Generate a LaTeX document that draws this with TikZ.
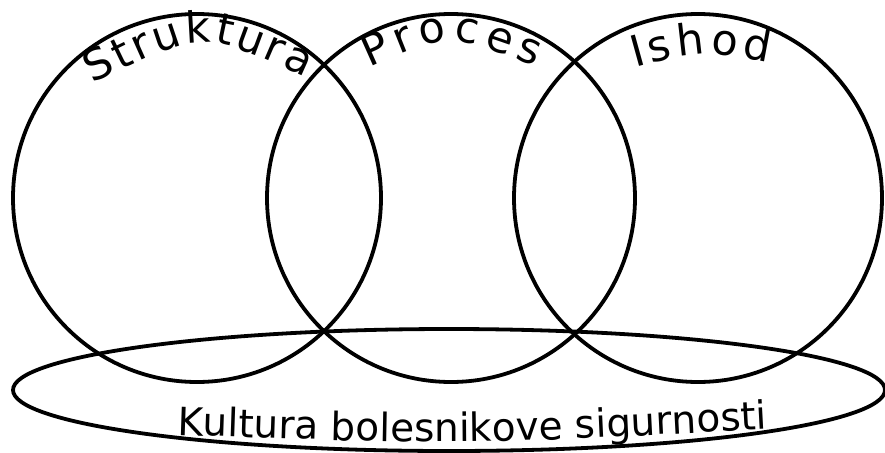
\documentclass[tikz,border=0pt]{standalone}
\usepackage{fontspec}
\setmainfont{DejaVu Sans}
\usetikzlibrary{decorations.text}
\newcommand\toplblsize{\fontsize{43}{45}\selectfont}
\newcommand\botlblsize{\fontsize{39}{41}\selectfont}
\begin{document}
\begin{tikzpicture}[x=1pt,y=-1pt, line width=3.8pt,
  venn/.style={circle, draw, minimum size=368pt, inner sep=0pt},
  arclabel/.style 2 args={decorate, decoration={text along path,
     text format delimiters={|}{|},
     text={|#1|#2}, text align={fit to path}}}]
\useasboundingbox (0,0) rectangle (885,452);
% circles
\node[venn] (struk) at (197,198) {};
\node[venn] (proc) at (451,198) {};
\node[venn] (ishod) at (698,198) {};
% ellipse
\draw (449,390) ellipse [x radius=436pt, y radius=61pt];
% curved labels
\path[arclabel={\toplblsize}{Struktura}] (93,84) .. controls (201,30) .. (305,77);
\path[arclabel={\toplblsize}{Proces}] (370,68) .. controls (448,33) .. (535,66);
\path[arclabel={\toplblsize}{Ishod}] (635,68) .. controls (700,50) .. (768,63);
\path[arclabel={\botlblsize}{Kultura bolesnikove sigurnosti}] (177,435) .. controls (469,445) .. (767,429);
\end{tikzpicture}
\end{document}
